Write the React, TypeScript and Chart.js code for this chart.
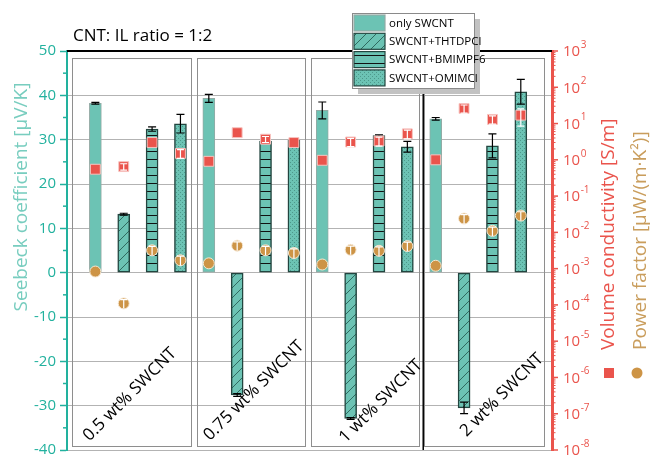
import React, { useEffect, useRef } from "react";
import { Chart, registerables } from "chart.js";
Chart.register(...registerables);

// ---------- data ----------
const groupLabels = ["0.5 wt% SWCNT", "0.75 wt% SWCNT", "1 wt% SWCNT", "2 wt% SWCNT"];
const seriesNames = ["only SWCNT", "SWCNT+THTDPCl", "SWCNT+BMIMPF6", "SWCNT+OMIMCl"];

const seebeckOnly = [38.2, 39.3, 36.6, 34.7];
const seebeckOnlyErr = [0.2, 0.9, 1.9, 0.3];
const seebeckTHT = [13.2, -27.6, -32.9, -30.5];
const seebeckTHTErr = [0.2, 0.3, 0.2, 1.3];
const seebeckBMIM = [32.4, 29.7, 30.9, 28.6];
const seebeckBMIMErr = [0.5, 0.3, 0.2, 2.7];
const seebeckOMIM = [33.6, 29.9, 28.4, 40.8];
const seebeckOMIMErr = [2.1, 0, 1.2, 2.8];

// per group: only, THTDPCl, BMIMPF6, OMIMCl
const conductivity = [0.55, 0.65, 3.0, 1.5, 0.91, 5.6, 3.7, 3.0, 0.97, 3.1, 3.3, 5.2, 1.0, 26, 13, 17];
const conductivityErr = [0, 0.13, 0, 0.4, 0, 0, 0.7, 0, 0, 0.8, 0.9, 1.4, 0, 6.5, 3.3, 8.5];
const powerFactor = [8.3e-4, 1.1e-4, 3.2e-3, 1.7e-3, 1.4e-3, 4.3e-3, 3.2e-3, 2.7e-3, 1.3e-3, 3.3e-3, 3.1e-3, 4.2e-3, 1.2e-3, 0.024, 0.011, 0.029];
const powerFactorErr = [0, 3e-5, 9e-4, 5e-4, 0, 1.2e-3, 9e-4, 8e-4, 0, 9e-4, 9e-4, 1.2e-3, 0, 7e-3, 3e-3, 8e-3];

const leftTickValues = [-40, -30, -20, -10, 0, 10, 20, 30, 40, 50];
const rightTickExponents = [-8, -7, -6, -5, -4, -3, -2, -1, 0, 1, 2, 3];

// ---------- layout (in axis units) ----------
const X_MAX = 17.1;
const GROUP_BOX = [[0.17, 4.37], [4.58, 8.39], [8.6, 12.4], [12.58, 16.81]];
const BOX_TOP = 48.4;
const BOX_BOTTOM = -39.1;
const DIVIDER_X = 12.56;
const LABEL_ANCHOR = [[2.22, -27.5], [6.59, -26.6], [11.07, -29.0], [15.33, -27.6]];

const FONT = "'Open Sans', 'Noto Sans', sans-serif";
const TEAL_AXIS = "#22b19e";
const TEAL_TITLE = "#78cdbf";
const RED = "#ea544c";
const ORANGE = "#cd9446";
const ORANGE_TITLE = "#c99d5c";
const BAR_FILL = "#6cc3b4";

const slot = (g: number, s: number) => g * 4 + s + 1;

export default function App() {
  const ref = useRef<HTMLCanvasElement>(null);
  useEffect(() => {
    const canvas = ref.current!;
    const mainCtx = canvas.getContext("2d")!;
    const makePattern = (w: number, h: number, draw: (g: CanvasRenderingContext2D) => void) => {
      const c = document.createElement("canvas");
      c.width = w;
      c.height = h;
      const g = c.getContext("2d")!;
      g.fillStyle = BAR_FILL;
      g.fillRect(0, 0, w, h);
      draw(g);
      return mainCtx.createPattern(c, "repeat")!;
    };
    const hatch = makePattern(10, 10, (g) => {
      g.strokeStyle = "#2f6a60";
      g.lineWidth = 1;
      g.beginPath();
      g.moveTo(0, 10);
      g.lineTo(10, 0);
      g.moveTo(-2, 2);
      g.lineTo(2, -2);
      g.moveTo(8, 12);
      g.lineTo(12, 8);
      g.stroke();
    });
    const hlines = makePattern(8, 8, (g) => {
      g.fillStyle = "#111";
      g.fillRect(0, 7, 8, 1.4);
    });
    const dots = makePattern(4, 4, (g) => {
      g.fillStyle = "#4d988b";
      g.fillRect(0, 0, 1, 1);
      g.fillRect(2, 2, 1, 1);
    });

    const barDs = (label: string, vals: number[], errs: number[], s: number, fill: any, border: string, bw: number) => ({
      type: "bar" as const,
      label,
      data: vals.map((v, g) => ({ x: slot(g, s), y: v })),
      errors: errs,
      errKind: "bar",
      backgroundColor: fill,
      borderColor: border,
      borderWidth: bw,
      borderSkipped: false,
      barThickness: 12,
      grouped: false,
      xAxisID: "x",
      yAxisID: "y",
      order: 3,
    });

    const overlay = {
      id: "overlay",
      beforeDatasetsDraw(chart: any) {
        const { ctx, scales } = chart;
        const x = scales.x, y = scales.y;
        ctx.save();
        ctx.strokeStyle = "#8e8e8e";
        ctx.lineWidth = 1;
        GROUP_BOX.forEach(([a, b]) => {
          const l = Math.round(x.getPixelForValue(a)) + 0.5;
          const r = Math.round(x.getPixelForValue(b)) + 0.5;
          const t = Math.round(y.getPixelForValue(BOX_TOP)) + 0.5;
          const bt = Math.round(y.getPixelForValue(BOX_BOTTOM)) + 0.5;
          ctx.strokeRect(l, t, r - l, bt - t);
        });
        ctx.strokeStyle = "#000";
        ctx.lineWidth = 1.5;
        const dx = x.getPixelForValue(DIVIDER_X);
        ctx.beginPath();
        ctx.moveTo(dx, chart.chartArea.top);
        ctx.lineTo(dx, chart.chartArea.bottom);
        ctx.stroke();
        ctx.restore();
      },
      afterDatasetDraw(chart: any, args: any) {
        const ds = chart.data.datasets[args.index];
        const errs: number[] = ds.errors;
        if (!errs) return;
        const ctx = chart.ctx;
        const sc = chart.scales[ds.yAxisID];
        ctx.save();
        args.meta.data.forEach((el: any, i: number) => {
          const e = errs[i];
          if (!e) return;
          const v = ds.data[i].y;
          const yt = sc.getPixelForValue(v + e);
          const yb = sc.getPixelForValue(v - e);
          const cx = el.x;
          if (ds.errKind === "bar") {
            ctx.strokeStyle = "#000";
            ctx.lineWidth = 1.2;
            ctx.beginPath();
            ctx.moveTo(cx, yt); ctx.lineTo(cx, yb);
            ctx.moveTo(cx - 4, yt); ctx.lineTo(cx + 4, yt);
            ctx.moveTo(cx - 4, yb); ctx.lineTo(cx + 4, yb);
            ctx.stroke();
          } else if (ds.errKind === "rect") {
            ctx.strokeStyle = "#fff";
            ctx.lineWidth = 1.2;
            ctx.beginPath();
            ctx.moveTo(cx, yt); ctx.lineTo(cx, yb);
            ctx.moveTo(cx - 3.5, yt); ctx.lineTo(cx + 3.5, yt);
            ctx.moveTo(cx - 3.5, yb); ctx.lineTo(cx + 3.5, yb);
            ctx.stroke();
          } else {
            ctx.strokeStyle = "#fff";
            ctx.lineWidth = 1.2;
            ctx.beginPath();
            ctx.moveTo(cx, yt); ctx.lineTo(cx, yb);
            ctx.moveTo(cx - 3.5, yt); ctx.lineTo(cx + 3.5, yt);
            ctx.stroke();
          }
        });
        ctx.restore();
      },
      afterDraw(chart: any) {
        const { ctx, chartArea, scales } = chart;
        const x = scales.x, y = scales.y, y2 = scales.y2;
        ctx.save();
        // top black line
        ctx.strokeStyle = "#000";
        ctx.lineWidth = 2;
        ctx.beginPath();
        ctx.moveTo(chartArea.left, chartArea.top);
        ctx.lineTo(chartArea.right, chartArea.top);
        ctx.stroke();

        // left minor ticks
        ctx.strokeStyle = TEAL_AXIS;
        ctx.lineWidth = 1.5;
        for (let i = 0; i < leftTickValues.length - 1; i++) {
          const v = (leftTickValues[i] + leftTickValues[i + 1]) / 2;
          const py = y.getPixelForValue(v);
          ctx.beginPath();
          ctx.moveTo(chartArea.left - 1, py);
          ctx.lineTo(chartArea.left - 4, py);
          ctx.stroke();
        }

        // right ticks & labels
        const rx = chartArea.right;
        ctx.strokeStyle = RED;
        ctx.fillStyle = RED;
        rightTickExponents.forEach((e) => {
          const py = y2.getPixelForValue(Math.pow(10, e));
          ctx.lineWidth = 1.5;
          ctx.beginPath();
          ctx.moveTo(rx, py);
          ctx.lineTo(rx + 6, py);
          ctx.stroke();
          if (e < rightTickExponents[rightTickExponents.length - 1]) {
            ctx.lineWidth = 1;
            for (let m = 2; m <= 9; m++) {
              const my = y2.getPixelForValue(m * Math.pow(10, e));
              ctx.beginPath();
              ctx.moveTo(rx, my);
              ctx.lineTo(rx + 3.5, my);
              ctx.stroke();
            }
          }
          ctx.font = `15px ${FONT}`;
          ctx.textAlign = "left";
          ctx.textBaseline = "middle";
          ctx.fillText("10", rx + 11, py + 1);
          const w = ctx.measureText("10").width;
          ctx.font = `10px ${FONT}`;
          ctx.fillText(String(e), rx + 11 + w + 0.5, py - 6);
        });

        // left title
        ctx.save();
        ctx.translate(22, 197);
        ctx.rotate(-Math.PI / 2);
        ctx.font = `19px ${FONT}`;
        ctx.fillStyle = TEAL_TITLE;
        ctx.textAlign = "center";
        ctx.textBaseline = "middle";
        ctx.fillText("Seebeck coefficient [µV/K]", 0, 0);
        ctx.restore();

        // right titles
        const drawRight = (cx: number, text: string, color: string) => {
          ctx.save();
          ctx.translate(cx, 350);
          ctx.rotate(-Math.PI / 2);
          ctx.font = `19px ${FONT}`;
          ctx.fillStyle = color;
          ctx.textAlign = "left";
          ctx.textBaseline = "middle";
          ctx.fillText(text, 0, 0);
          ctx.restore();
        };
        drawRight(609, "Volume conductivity [S/m]", RED);
        drawRight(641, "Power factor [µW/(m·K²)]", ORANGE_TITLE);
        ctx.fillStyle = RED;
        ctx.fillRect(604, 368, 10, 10);
        ctx.fillStyle = ORANGE;
        ctx.beginPath();
        ctx.arc(637, 373, 5.5, 0, Math.PI * 2);
        ctx.fill();

        // chart title
        ctx.fillStyle = "#000";
        ctx.font = `17px ${FONT}`;
        ctx.textAlign = "left";
        ctx.textBaseline = "middle";
        ctx.fillText("CNT: IL ratio = 1:2", 73, 36);

        // group labels
        groupLabels.forEach((t, g) => {
          const [ax, ay] = LABEL_ANCHOR[g];
          ctx.save();
          ctx.translate(x.getPixelForValue(ax), y.getPixelForValue(ay));
          ctx.rotate(-Math.PI / 4);
          ctx.font = `17px ${FONT}`;
          ctx.fillStyle = "#000";
          ctx.textAlign = "center";
          ctx.textBaseline = "middle";
          ctx.fillText(t, 0, 0);
          ctx.restore();
        });

        // legend
        const lx = 352, ly = 13, lw = 122, lh = 75;
        ctx.fillStyle = "#c2c2c2";
        ctx.fillRect(lx + 6, ly + 6, lw, lh);
        ctx.fillStyle = "#fff";
        ctx.fillRect(lx, ly, lw, lh);
        ctx.strokeStyle = "#8a8a8a";
        ctx.lineWidth = 1;
        ctx.strokeRect(lx + 0.5, ly + 0.5, lw, lh);
        const bars = chart.data.datasets.filter((d: any) => d.errKind === "bar");
        bars.forEach((d: any, i: number) => {
          const top = 15 + i * 18.3;
          ctx.fillStyle = d.backgroundColor;
          ctx.fillRect(354, top, 31, 16);
          ctx.strokeStyle = d.borderColor;
          ctx.lineWidth = 1.2;
          ctx.strokeRect(354, top, 31, 16);
          ctx.fillStyle = "#000";
          ctx.font = `11.5px ${FONT}`;
          ctx.textAlign = "left";
          ctx.textBaseline = "middle";
          ctx.fillText(d.label, 389, top + 8.5);
        });
        ctx.restore();
      },
    };

    const chart = new Chart(canvas, {
      type: "bar",
      data: {
        datasets: [
          barDs(seriesNames[0], seebeckOnly, seebeckOnlyErr, 0, BAR_FILL, "#93aaa5", 1),
          barDs(seriesNames[1], seebeckTHT, seebeckTHTErr, 1, hatch, "#22453f", 1.5),
          barDs(seriesNames[2], seebeckBMIM, seebeckBMIMErr, 2, hlines, "#22453f", 1.5),
          barDs(seriesNames[3], seebeckOMIM, seebeckOMIMErr, 3, dots, "#22453f", 1.5),
          {
            type: "scatter" as const,
            label: "Power factor",
            data: powerFactor.map((v, i) => ({ x: i + 1, y: v })),
            errors: powerFactorErr,
            errKind: "circle",
            pointStyle: "circle",
            pointRadius: 5.5,
            backgroundColor: ORANGE,
            borderColor: "#f6e7d2",
            borderWidth: 1,
            xAxisID: "x",
            yAxisID: "y2",
            order: 2,
          },
          {
            type: "scatter" as const,
            label: "Volume conductivity",
            data: conductivity.map((v, i) => ({ x: i + 1, y: v })),
            errors: conductivityErr,
            errKind: "rect",
            pointStyle: "rect",
            pointRadius: 7,
            backgroundColor: RED,
            borderColor: "#f7c3bf",
            borderWidth: 1,
            xAxisID: "x",
            yAxisID: "y2",
            order: 1,
          },
        ] as any,
      },
      options: {
        responsive: false,
        animation: false,
        devicePixelRatio: 1,
        events: [],
        layout: { padding: { top: 51, bottom: 7, left: 0, right: 0 } },
        plugins: { legend: { display: false }, tooltip: { enabled: false } },
        scales: {
          x: { type: "linear", min: 0, max: X_MAX, offset: false, display: false },
          y: {
            type: "linear",
            position: "left",
            min: leftTickValues[0],
            max: leftTickValues[leftTickValues.length - 1],
            afterBuildTicks: (s: any) => {
              s.ticks = leftTickValues.map((v) => ({ value: v }));
            },
            afterFit: (s: any) => {
              s.width = 67;
              s.paddingTop = 0;
              s.paddingBottom = 0;
            },
            ticks: { color: TEAL_AXIS, font: { family: FONT, size: 15 }, padding: 4 },
            grid: { color: "#b3b3b3", lineWidth: 1, tickColor: TEAL_AXIS, tickLength: 7, tickWidth: 1.5 },
            border: { color: TEAL_AXIS, width: 2 },
          },
          y2: {
            type: "logarithmic",
            position: "right",
            min: Math.pow(10, rightTickExponents[0]),
            max: Math.pow(10, rightTickExponents[rightTickExponents.length - 1]),
            afterFit: (s: any) => {
              s.width = 98;
              s.paddingTop = 0;
              s.paddingBottom = 0;
            },
            ticks: { display: false },
            grid: { display: true, drawOnChartArea: false, drawTicks: false },
            border: { color: RED, width: 3 },
          },
        },
      } as any,
      plugins: [overlay as any],
    });
    return () => chart.destroy();
  }, []);
  return (
    <div style={{ position: "fixed", left: 0, top: 0, width: 650, height: 458, background: "#fff" }}>
      <canvas ref={ref} width={650} height={458} style={{ display: "block", width: 650, height: 458 }} />
    </div>
  );
}
